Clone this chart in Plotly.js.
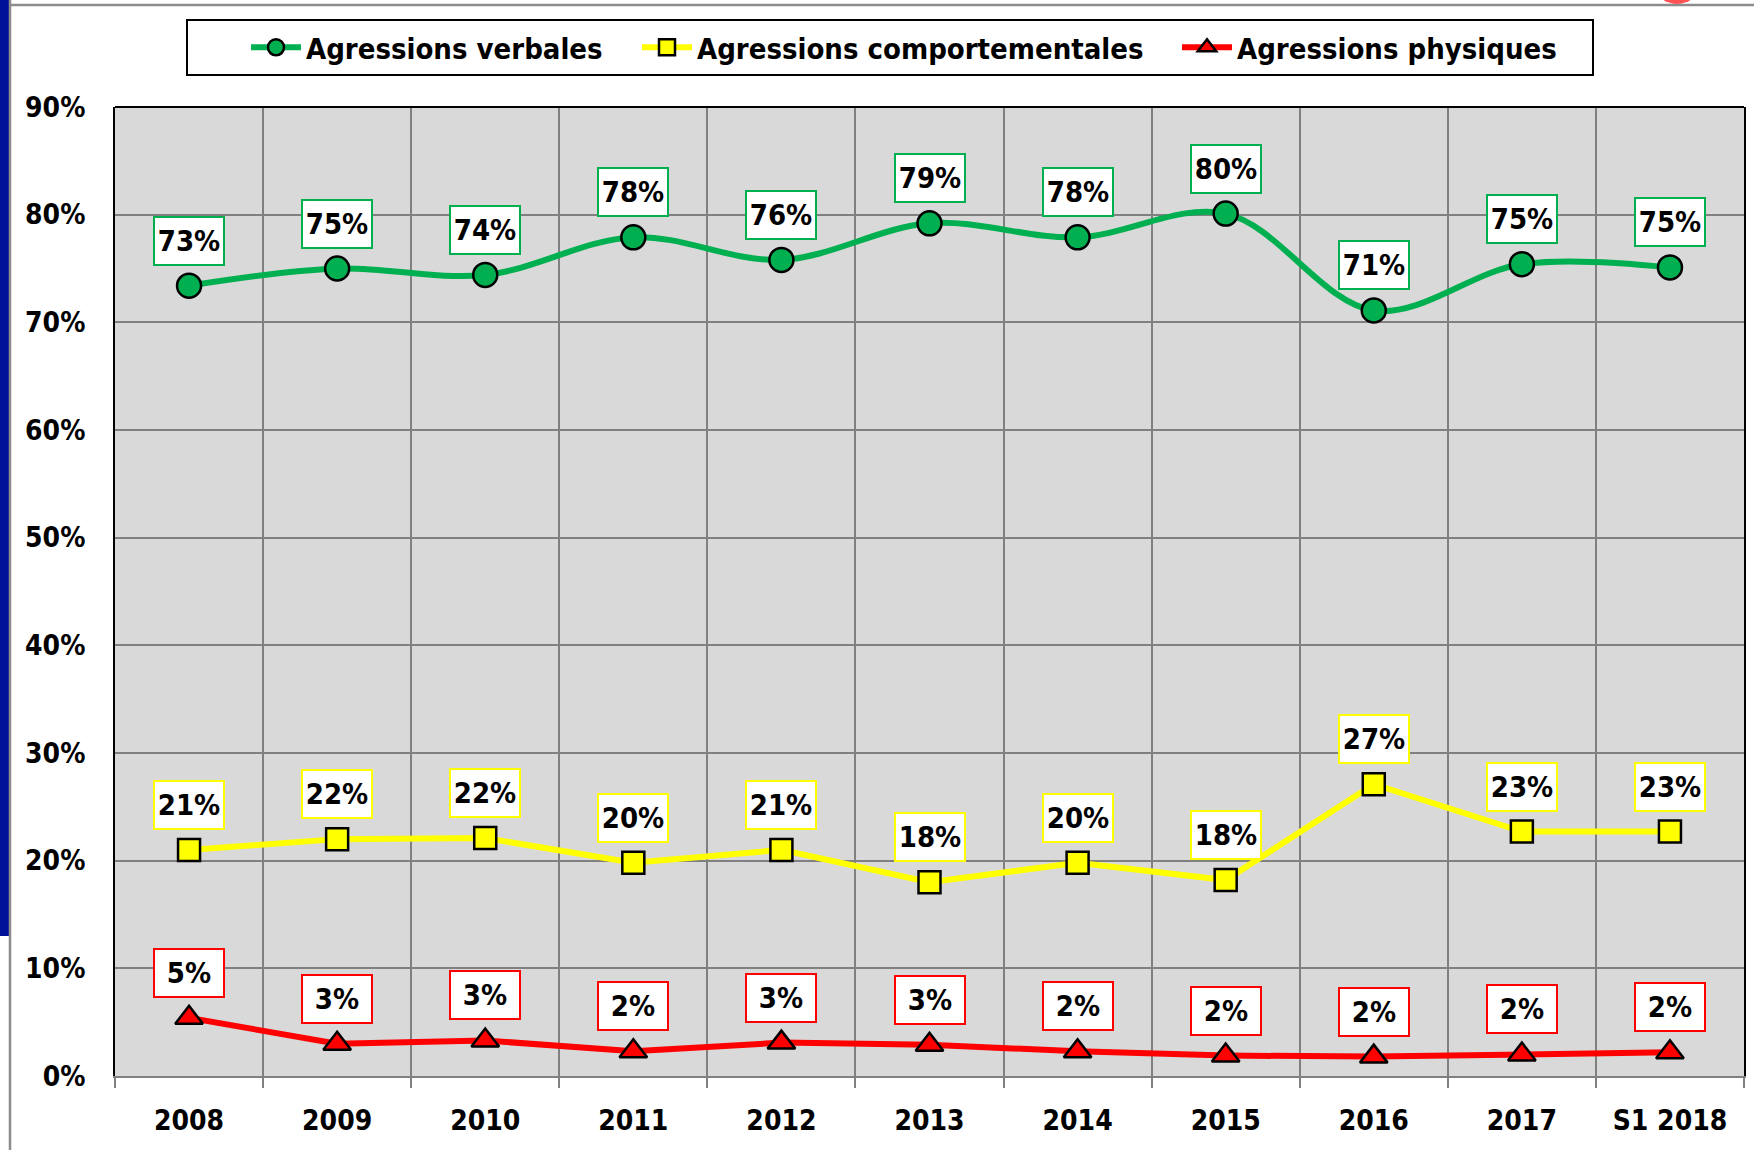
<!DOCTYPE html>
<html>
<head>
<meta charset="utf-8">
<script src="https://cdn.plot.ly/plotly-3.0.1.min.js"></script>
<style>html,body{margin:0;padding:0;background:#fff;}#chart{width:1754px;height:1150px;}</style>
</head>
<body>
<div id="chart"></div>
<script>
// ---- Data ----
const categories = ["2008","2009","2010","2011","2012","2013","2014","2015","2016","2017","S1 2018"];
const verbales = [0.734,0.750,0.744,0.779,0.758,0.792,0.779,0.801,0.711,0.754,0.751];
const comportementales = [0.210,0.220,0.221,0.198,0.210,0.180,0.198,0.182,0.271,0.227,0.227];
const physiques = [0.054,0.030,0.033,0.023,0.031,0.029,0.023,0.019,0.018,0.020,0.022];
const seriesNames = ["Agressions verbales","Agressions comportementales","Agressions physiques"];
const yTickVals = [0,0.1,0.2,0.3,0.4,0.5,0.6,0.7,0.8,0.9];

// ---- Layout geometry ----
const W = 1754, H = 1150;
const L = 115, R = 1744, T = 107, B = 1076;
const px = x => (x - L) / (R - L);
const py = y => (B - y) / (B - T);
const FONT = "DejaVu Sans Condensed, Liberation Sans Narrow, Liberation Sans, Arial, sans-serif";

const colors = ["#00b050","#ffff00","#ff0000"];
const symbols = ["circle","square","triangle-up"];
const sizes = [24,22,24];
const shapesLine = ["spline","linear","linear"];
const legendIds = ["legend","legend2","legend3"];
const legendStarts = [246, 637, 1177];
const allSeries = [verbales, comportementales, physiques];

const traces = allSeries.map((vals, i) => ({
  type: "scatter",
  mode: "lines+markers",
  name: seriesNames[i],
  legend: legendIds[i],
  x: categories,
  y: vals,
  line: {color: colors[i], width: 6, shape: shapesLine[i], smoothing: 1},
  marker: {symbol: symbols[i], size: sizes[i], color: colors[i], line: {color: "#000", width: 2.5}},
  hoverinfo: "skip"
}));

const annotations = [];
allSeries.forEach((vals, i) => {
  vals.forEach((v, j) => {
    annotations.push({
      x: j, y: v, xref: "x", yref: "y",
      text: Math.round(v * 100) + "%",
      showarrow: false,
      yshift: 45,
      width: 62, height: 40,
      bgcolor: "#ffffff",
      bordercolor: colors[i],
      borderwidth: 2,
      borderpad: 3,
      font: {family: FONT, size: 29, color: "#000", weight: "bold"}
    });
  });
});

const shapes = [
  {type: "rect", xref: "paper", yref: "paper", x0: px(0), x1: px(9), y0: py(936), y1: py(0), fillcolor: "#001199", line: {width: 0}},
  {type: "line", xref: "paper", yref: "paper", x0: px(10), x1: px(10), y0: py(0), y1: py(H), line: {color: "#8c8c8c", width: 2.5}},
  {type: "line", xref: "paper", yref: "paper", x0: px(10), x1: px(W), y0: py(5), y1: py(5), line: {color: "#8c8c8c", width: 2.5}},
  {type: "circle", xref: "paper", yref: "paper", x0: px(1652), x1: px(1702), y0: py(4), y1: py(-46), fillcolor: "#ff5252", line: {width: 0}},
  {type: "rect", xref: "paper", yref: "paper", x0: px(187), x1: px(1593), y0: py(75), y1: py(20), fillcolor: "#ffffff", line: {color: "#000", width: 2}},
  {type: "line", xref: "paper", yref: "paper", x0: 0, x1: 1, y0: 1, y1: 1, line: {color: "#000", width: 2}}
];

const legendBase = {
  orientation: "h",
  xanchor: "left",
  y: py(47.5), yanchor: "middle",
  bgcolor: "rgba(0,0,0,0)",
  borderwidth: 0,
  itemwidth: 50,
  font: {family: FONT, size: 29, color: "#000", weight: 600}
};

const layout = {
  width: W, height: H,
  margin: {l: L, r: W - R, t: T, b: H - B, pad: 0},
  paper_bgcolor: "#ffffff",
  plot_bgcolor: "#d9d9d9",
  font: {family: FONT, color: "#000"},
  showlegend: true,
  legend: Object.assign({}, legendBase, {x: px(legendStarts[0])}),
  legend2: Object.assign({}, legendBase, {x: px(legendStarts[1])}),
  legend3: Object.assign({}, legendBase, {x: px(legendStarts[2])}),
  xaxis: {
    type: "category",
    categoryorder: "array",
    categoryarray: categories,
    range: [-0.5, categories.length - 0.5],
    tickson: "boundaries",
    ticks: "outside", ticklen: 10, tickwidth: 2, tickcolor: "#808080",
    showgrid: true, gridcolor: "#808080", gridwidth: 2,
    showline: true, linecolor: "#808080", linewidth: 2,
    tickfont: {family: FONT, size: 28, color: "#000", weight: "bold"},
    ticklabelstandoff: 18,
    tickangle: 0,
    fixedrange: true
  },
  yaxis: {
    range: [0, 0.9],
    tickvals: yTickVals,
    tickformat: ".0%",
    showgrid: true, gridcolor: "#808080", gridwidth: 2,
    zeroline: false,
    showline: true, linecolor: "#000", linewidth: 2, mirror: true,
    ticks: "",
    tickfont: {family: FONT, size: 28, color: "#000", weight: "bold"},
    ticklabelstandoff: 22,
    fixedrange: true
  },
  shapes: shapes,
  annotations: annotations
};

Plotly.newPlot("chart", traces, layout, {displayModeBar: false, staticPlot: true});
</script>
</body>
</html>
